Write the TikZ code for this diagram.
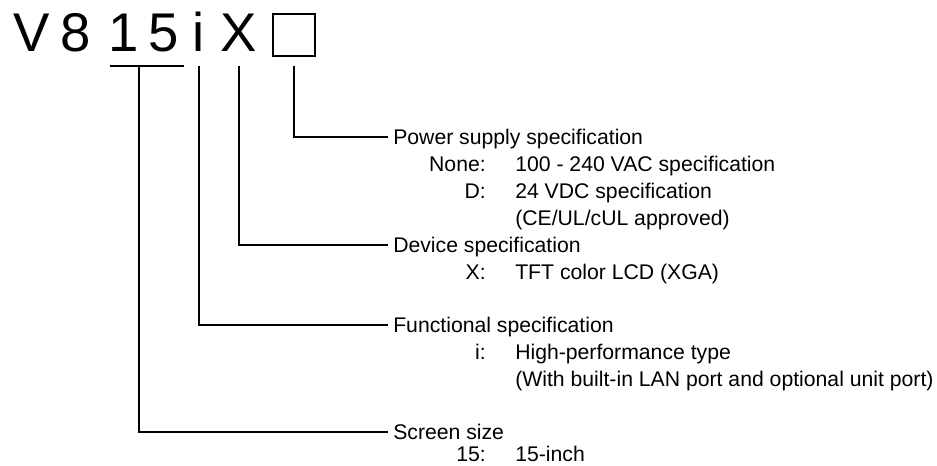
\documentclass[tikz,border=0pt]{standalone}
\usepackage{fontspec}
\setmainfont{Liberation Sans}
\usetikzlibrary{positioning}

\tikzset{
  code/.style={font=\fontsize{40.9}{49}\selectfont, inner sep=0pt, anchor=base},
  head/.style={font=\fontsize{15.9}{19}\selectfont, inner xsep=3.75pt, inner ysep=0pt,
               text height=11.4pt, text depth=0pt, anchor=west},
  key/.style={font=\fontsize{15.9}{19}\selectfont, inner sep=0pt, anchor=base east},
  val/.style={font=\fontsize{15.9}{19}\selectfont, inner sep=0pt, anchor=base west},
  lead/.style={line width=1.3pt}
}

\begin{document}
\begin{tikzpicture}[x=0.75pt,y=-0.75pt]
  \useasboundingbox (0,0) rectangle (937,466);
  % model code characters
  \node[code] (cv) at (31.5,51.5) {V};
  \node[code] (c8) at (76,51.5)   {8};
  \node[code] (c1) at (124,51.5)  {1};
  \node[code] (c5) at (163.5,51.5) {5};
  \node[code] (ci) at (199,51.5)  {i};
  \node[code] (cx) at (239,51.5)  {X};
  \node[draw, line width=1pt, minimum size=31.5pt, inner sep=0pt] (cbox) at (294,35) {};
  % tick points under the code
  \coordinate (ul)  at (110,66);
  \coordinate (ur)  at (184,66);
  \coordinate (t15) at (139,66);
  % headings (line ends at their west anchor)
  \node[head] (pwr)  at (388,137) {Power supply specification};
  \node[head] (dev)  at (388,245) {Device specification};
  \node[head] (func) at (388,325) {Functional specification};
  \node[head] (size) at (388,432) {Screen size};
  % options
  \node[key] (knone) at (486,171.6) {None:};
  \node[val] (vnone) at (515,171.6) {100 - 240 VAC specification};
  \node[key] (kd)    at (486,198.6) {D:};
  \node[val] (vd)    at (515,198.6) {24 VDC specification};
  \node[val] (vd2)   at (515,225.6) {(CE/UL/cUL approved)};
  \node[key] (kx)    at (486,279.6) {X:};
  \node[val] (vx)    at (515,279.6) {TFT color LCD (XGA)};
  \node[key] (ki)    at (486,359.6) {i:};
  \node[val] (vi)    at (515,359.6) {High-performance type};
  \node[val] (vi2)   at (515,386.6) {(With built-in LAN port and optional unit port)};
  \node[key] (k15)   at (486,461.5) {15:};
  \node[val] (v15)   at (515,461.5) {15-inch};
  % leader lines
  \draw[lead] (ul) -- (ur);
  \draw[lead] (t15) |- (size.west);
  \draw[lead] (ci |- t15) |- (func.west);
  \draw[lead] (cx |- t15) |- (dev.west);
  \draw[lead] (cbox |- t15) |- (pwr.west);
\end{tikzpicture}
\end{document}
